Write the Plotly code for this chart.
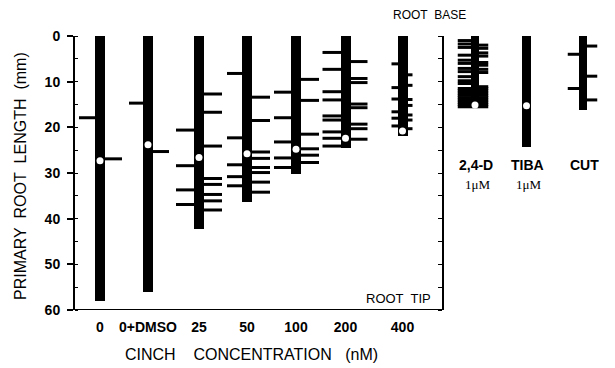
import plotly.graph_objects as go

# ---------------- data (mm from root base) ----------------
CATEGORIES = ["0", "0+DMSO", "25", "50", "100", "200", "400", "2,4-D", "TIBA", "CUT"]
ROOT_LENGTH = [58.0, 56.0, 42.3, 36.3, 30.2, 24.5, 21.8, 15.7, 24.2, 16.2]
ROOT_TIP_DOT = [27.3, 23.8, 26.6, 25.8, 24.8, 22.4, 20.8, 15.1, 15.3, None]
LATERALS_LEFT = [
    [17.9],
    [14.7],
    [20.6, 28.4, 33.7, 36.9],
    [8.2, 22.3, 28.2, 30.8, 32.8],
    [12.3, 17.9, 23.2, 26.7, 28.8],
    [3.6, 7.3, 12.2, 14.0, 17.5, 18.4, 21.0, 22.4, 24.1],
    [6.1, 11.3, 13.8, 16.6, 18.0, 19.7],
    [1.0, 1.75, 2.5, 4.2, 5.3, 6.0, 7.1, 7.8, 8.9, 9.8, 10.4,
     11.5, 12.0, 12.5, 13.0, 13.5, 14.0, 14.5, 15.0, 15.5],
    [],
    [4.0, 11.5],
]
LATERALS_RIGHT = [
    [26.9],
    [25.3],
    [12.7, 16.7, 24.1, 31.2, 32.5, 34.7, 36.1, 38.1],
    [13.4, 18.5, 25.4, 26.8, 28.8, 29.9, 32.0, 34.2],
    [9.5, 14.1, 21.5, 24.7, 26.1, 27.7],
    [5.6, 9.3, 10.2, 14.9, 15.7, 19.3, 20.3, 22.6],
    [8.5, 10.8, 13.9, 15.2, 17.3, 18.4, 20.3],
    [2.0, 2.7, 3.7, 4.4, 5.8, 6.4, 7.3, 8.0, 11.1,
     11.5, 12.0, 12.5, 13.0, 13.5, 14.0, 14.5, 15.0, 15.5],
    [],
    [2.2, 8.8, 14.0],
]
Y_TICKS = [0, 10, 20, 30, 40, 50, 60]
N_CINCH = 7  # first seven roots are the cinch concentration series

# ---------------- layout geometry (page-pixel x units) ----------------
PAGE_W, PAGE_H = 615, 368
OFF = 8                      # default page body margin
W, H = PAGE_W - OFF, PAGE_H - OFF
PLOT_L, PLOT_R, PLOT_T, PLOT_B = 75, 610, 36, 310   # page pixels
ML, MT = PLOT_L - OFF, PLOT_T - OFF
MR = W - (PLOT_R - OFF)
MB = H - (PLOT_B - OFF)
SLOT_X = [100, 148, 199, 247, 296, 345.5, 402.5, 475, 526.5, 583]
BAR_W = [10, 10, 10, 10, 10, 10, 10, 8.5, 8.5, 8.5]
LAT_LEN_L = [16, 14, 18, 15, 17, 18, 6, 13, 0, 11]
LAT_LEN_R = [17, 16, 18, 18, 18, 17, 5, 9, 0, 10]
DIVIDER_X = 443
FONT = "Liberation Sans, Arial, sans-serif"


def ypaper(p):
    return (PLOT_B - p) / (PLOT_B - PLOT_T)


def xpaper(p):
    return (p - PLOT_L) / (PLOT_R - PLOT_L)


fig = go.Figure()

# primary roots
fig.add_bar(x=SLOT_X, y=ROOT_LENGTH, base=0, width=BAR_W,
            marker=dict(color="black", line=dict(width=0)),
            hoverinfo="skip")

# lateral roots
lx, ly = [], []
for i in range(len(CATEGORIES)):
    cx, hw = SLOT_X[i], BAR_W[i] / 2
    for m in LATERALS_LEFT[i]:
        lx += [cx, cx - hw - LAT_LEN_L[i], None]
        ly += [m, m, None]
    for m in LATERALS_RIGHT[i]:
        lx += [cx, cx + hw + LAT_LEN_R[i], None]
        ly += [m, m, None]
fig.add_scatter(x=lx, y=ly, mode="lines", line=dict(color="black", width=3),
                hoverinfo="skip", cliponaxis=False)

# white dots
dx = [SLOT_X[i] for i in range(len(CATEGORIES)) if ROOT_TIP_DOT[i] is not None]
dy = [d for d in ROOT_TIP_DOT if d is not None]
fig.add_scatter(x=dx, y=dy, mode="markers",
                marker=dict(color="white", size=7, line=dict(width=0)),
                hoverinfo="skip")

# bottom axis line (left panel only)
fig.add_shape(type="line", xref="x", yref="y", x0=69, x1=DIVIDER_X + 1,
              y0=60, y1=60, line=dict(color="black", width=2))


def ann(text, x, y, size, xref="x", family=FONT, angle=0):
    return dict(text=text, x=x, xref=xref, y=y, yref="paper", showarrow=False,
                xanchor="center", yanchor="middle", textangle=angle,
                font=dict(size=size, family=family, color="black"))


annotations = [
    ann("ROOT\u00a0 BASE", 429, ypaper(15), 12),
    ann("ROOT\u00a0 TIP", 398, ypaper(298), 13),
    ann("CINCH\u00a0\u00a0\u00a0 CONCENTRATION\u00a0\u00a0 (nM)", 251, ypaper(354), 16),
    ann("PRIMARY\u00a0 ROOT\u00a0 LENGTH\u00a0 (mm)", xpaper(20), ypaper(176), 16,
        xref="paper", angle=-90),
]
for i in range(N_CINCH, len(CATEGORIES)):
    annotations.append(ann("<b>" + CATEGORIES[i] + "</b>", SLOT_X[i] + 1, ypaper(165), 14))
for i in [7, 8]:
    annotations.append(ann("1\u03bcM", SLOT_X[i] + 2, ypaper(184), 13,
                           family="Liberation Serif, serif"))

fig.update_layout(
    width=W, height=H,
    margin=dict(l=ML, r=MR, t=MT, b=MB, pad=0, autoexpand=False),
    paper_bgcolor="white", plot_bgcolor="white",
    showlegend=False, bargap=0,
    font=dict(family=FONT, color="black"),
    annotations=annotations,
    xaxis=dict(range=[PLOT_L, PLOT_R], showgrid=False, zeroline=False, showline=False,
               tickmode="array", tickvals=SLOT_X[:N_CINCH],
               ticktext=["<b>" + c + "</b>" for c in CATEGORIES[:N_CINCH]],
               ticks="", ticklabelstandoff=7,
               tickfont=dict(size=14, family=FONT, color="black")),
    yaxis=dict(range=[60, 0], showgrid=False, zeroline=False,
               showline=True, linecolor="black", linewidth=2,
               tickmode="array", tickvals=Y_TICKS,
               ticktext=["<b>%d</b>" % v for v in Y_TICKS],
               ticks="outside", ticklen=6, tickwidth=2, tickcolor="black",
               ticklabelstandoff=4,
               minor=dict(ticks="inside", ticklen=3, tickwidth=1, dtick=5,
                          tickcolor="black"),
               tickfont=dict(size=14, family=FONT, color="black")),
    yaxis2=dict(range=[60, 0], overlaying="y", anchor="free",
                position=xpaper(DIVIDER_X), side="left",
                showgrid=False, zeroline=False, showline=True,
                linecolor="black", linewidth=2, showticklabels=False,
                tickmode="linear", tick0=0, dtick=5,
                ticks="outside", ticklen=4, tickwidth=1, tickcolor="black"),
)
# invisible point so the divider axis (yaxis2) is rendered
fig.add_scatter(x=[DIVIDER_X], y=[0], yaxis="y2", mode="markers",
                marker=dict(opacity=0), hoverinfo="skip")

fig.write_html("out.html")
